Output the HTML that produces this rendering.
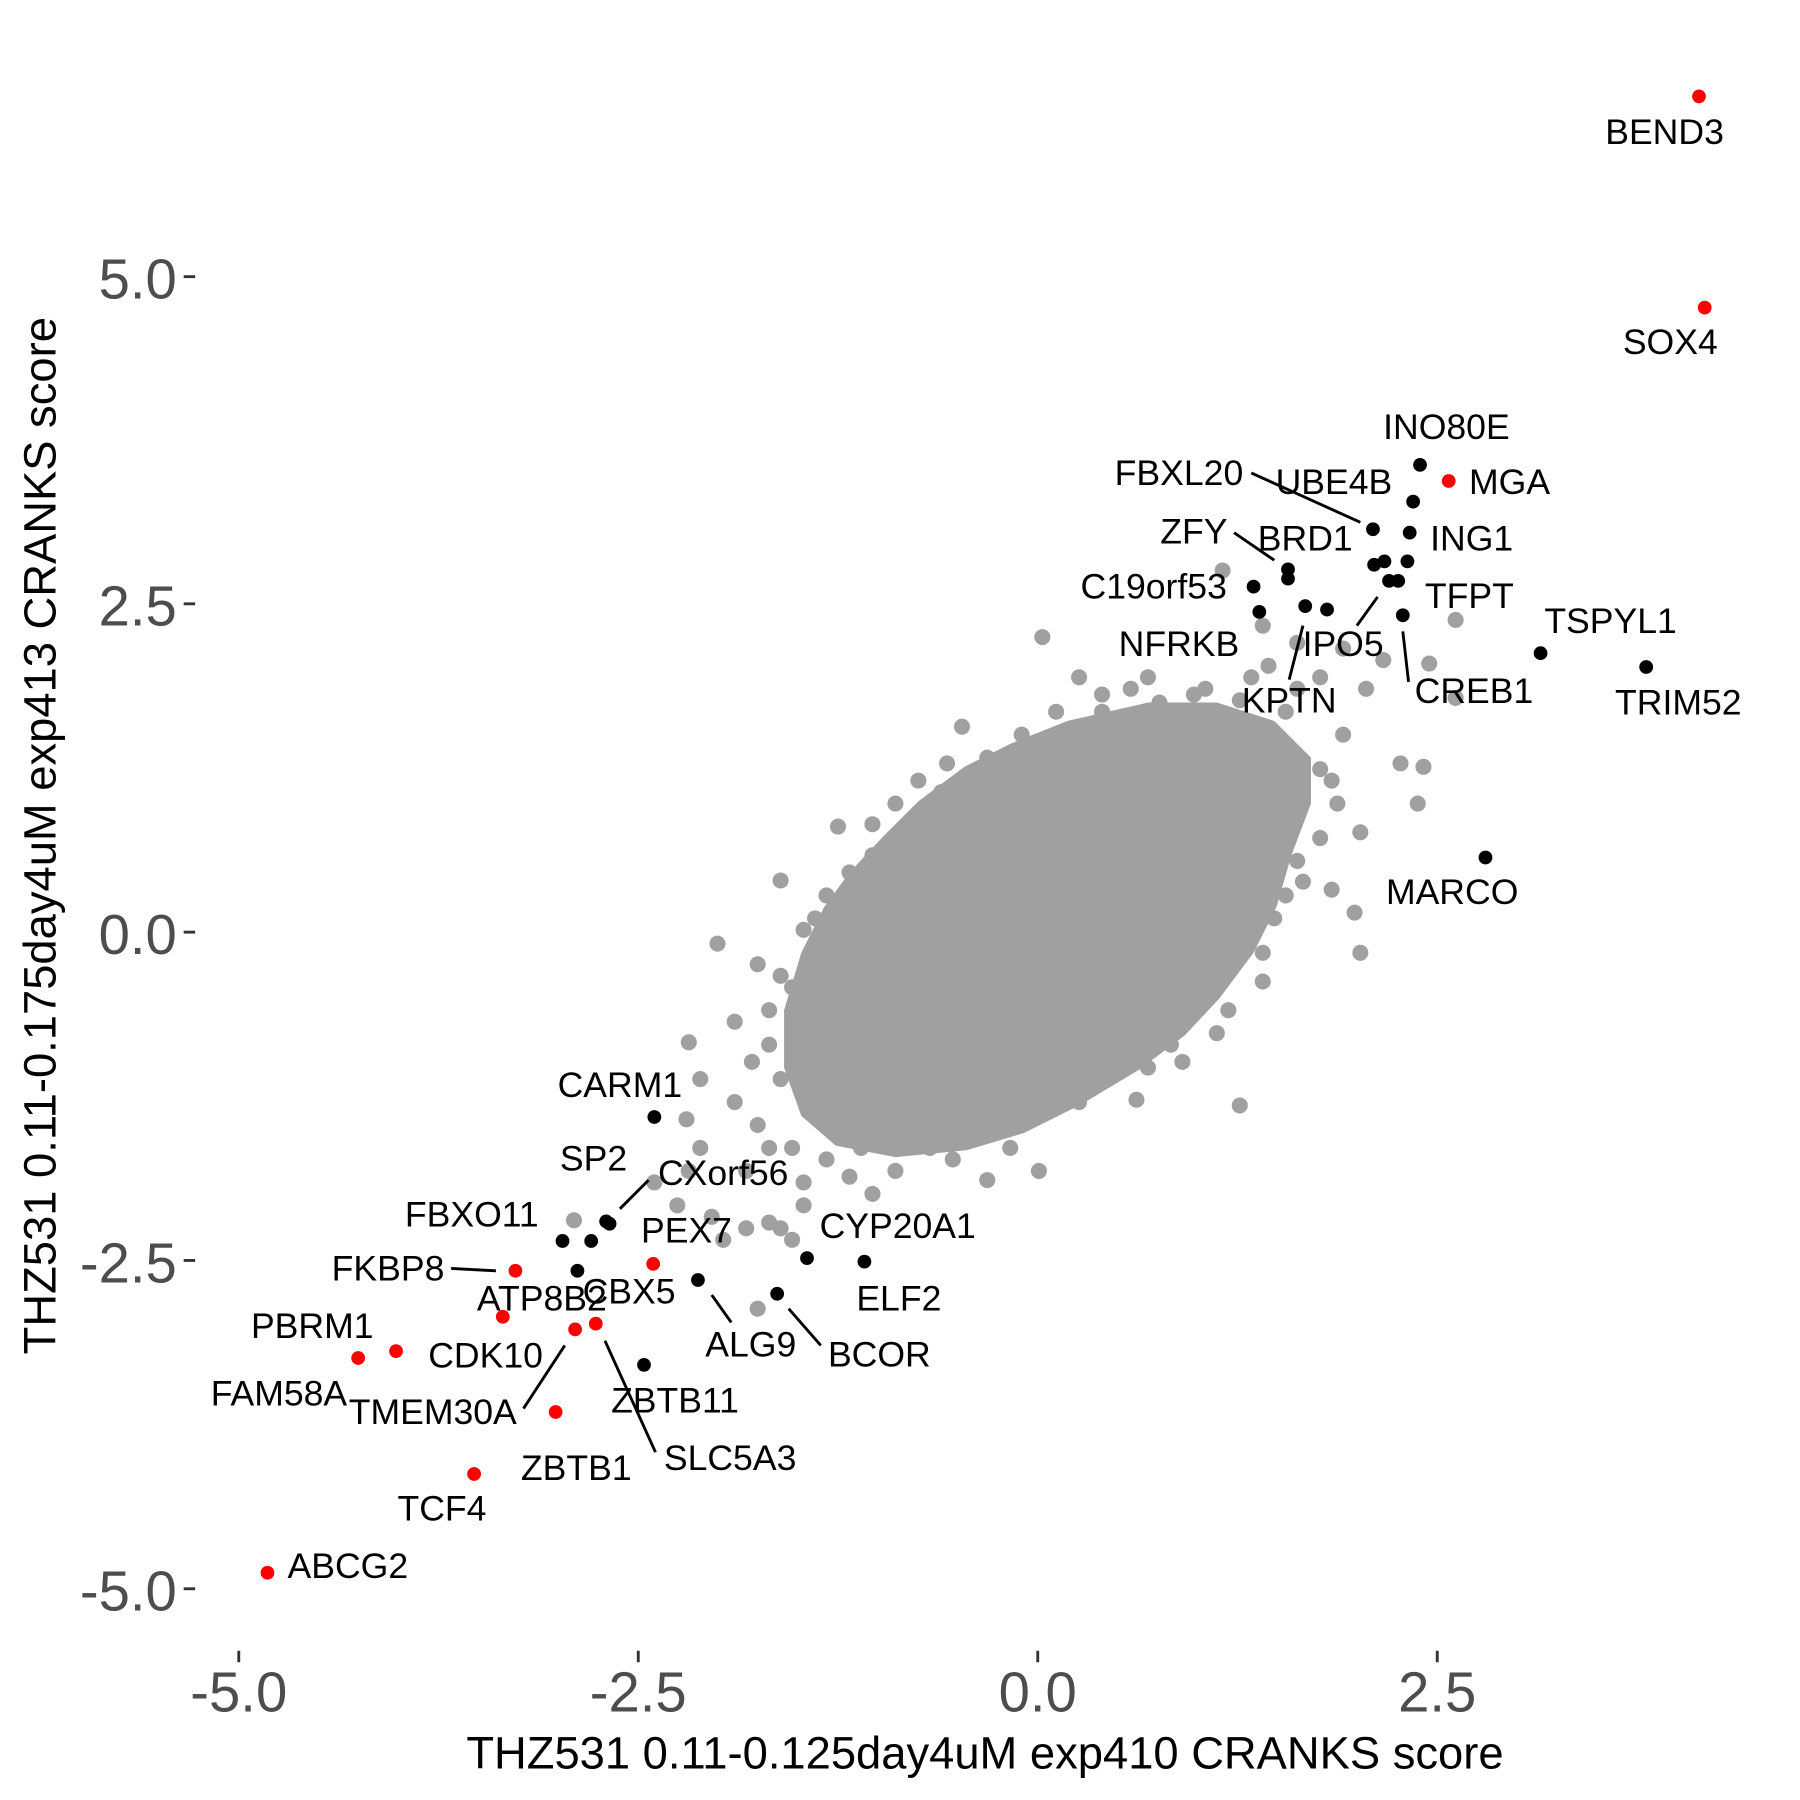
<!DOCTYPE html>
<html><head><meta charset="utf-8"><style>
html,body{margin:0;padding:0;background:#fff;}
svg{display:block;}
text{font-family:"Liberation Sans",Arial,sans-serif;}
.l{font-size:31px;fill:#000;text-anchor:middle;dominant-baseline:central;}
.t{font-size:49px;fill:#4d4d4d;dominant-baseline:central;}
</style></head><body>
<svg width="1800" height="1800" viewBox="0 0 1568 1568" xmlns="http://www.w3.org/2000/svg">
<rect width="1568" height="1568" fill="#fff"/>
<g fill="#a0a0a0">
<path d="M1000,612 L1060,612 L1110,628 L1142,660 L1142,700 L1125,745 L1112,790 L1092,830 L1062,870 L1032,902 L992,932 L942,962 L892,987 L842,1002 L780,1008 L728,998 L698,972 L683,930 L683,880 L698,830 L718,790 L740,760 L770,728 L800,698 L840,668 L880,648 L930,628 Z"/>
<g>
<circle cx="908" cy="555" r="7"/><circle cx="940" cy="590" r="7"/><circle cx="985" cy="600" r="7"/><circle cx="1010" cy="612" r="7"/><circle cx="1040" cy="605" r="7"/><circle cx="1065" cy="497" r="7"/><circle cx="1100" cy="545" r="7"/><circle cx="1105" cy="580" r="7"/><circle cx="1130" cy="560" r="7"/><circle cx="1150" cy="590" r="7"/><circle cx="1170" cy="565" r="7"/><circle cx="1190" cy="600" r="7"/><circle cx="1205" cy="575" r="7"/><circle cx="1245" cy="578" r="7"/><circle cx="1268" cy="540" r="7"/><circle cx="1268" cy="608" r="7"/><circle cx="1220" cy="665" r="7"/><circle cx="1240" cy="668" r="7"/><circle cx="1235" cy="700" r="7"/><circle cx="1185" cy="725" r="7"/><circle cx="1165" cy="700" r="7"/><circle cx="1160" cy="775" r="7"/><circle cx="1135" cy="768" r="7"/><circle cx="1180" cy="795" r="7"/><circle cx="1185" cy="830" r="7"/><circle cx="1110" cy="800" r="7"/><circle cx="1100" cy="855" r="7"/><circle cx="1080" cy="963" r="7"/><circle cx="1060" cy="900" r="7"/><circle cx="1030" cy="925" r="7"/><circle cx="990" cy="958" r="7"/><circle cx="905" cy="1020" r="7"/><circle cx="860" cy="1028" r="7"/><circle cx="780" cy="1020" r="7"/><circle cx="750" cy="1000" r="7"/><circle cx="740" cy="1025" r="7"/><circle cx="700" cy="1030" r="7"/><circle cx="680" cy="1070" r="7"/><circle cx="670" cy="1065" r="7"/><circle cx="650" cy="1070" r="7"/><circle cx="630" cy="1080" r="7"/><circle cx="660" cy="1140" r="7"/><circle cx="620" cy="1060" r="7"/><circle cx="600" cy="908" r="7"/><circle cx="625" cy="822" r="7"/><circle cx="660" cy="840" r="7"/><circle cx="680" cy="767" r="7"/><circle cx="730" cy="720" r="7"/><circle cx="760" cy="718" r="7"/><circle cx="800" cy="680" r="7"/><circle cx="825" cy="665" r="7"/><circle cx="838" cy="633" r="7"/><circle cx="860" cy="660" r="7"/><circle cx="610" cy="1000" r="7"/><circle cx="590" cy="1050" r="7"/><circle cx="500" cy="1063" r="7"/><circle cx="598" cy="975" r="7"/><circle cx="640" cy="890" r="7"/><circle cx="640" cy="960" r="7"/><circle cx="570" cy="1030" r="7"/><circle cx="600" cy="1020" r="7"/><circle cx="690" cy="1080" r="7"/><circle cx="610" cy="940" r="7"/>
<circle cx="670" cy="910" r="7"/><circle cx="680" cy="940" r="7"/><circle cx="660" cy="980" r="7"/><circle cx="690" cy="1000" r="7"/><circle cx="720" cy="1010" r="7"/><circle cx="810" cy="1000" r="7"/><circle cx="850" cy="990" r="7"/><circle cx="940" cy="960" r="7"/><circle cx="1000" cy="930" r="7"/><circle cx="1050" cy="870" r="7"/><circle cx="1080" cy="830" r="7"/><circle cx="1120" cy="780" r="7"/><circle cx="1150" cy="730" r="7"/><circle cx="1150" cy="670" r="7"/><circle cx="1120" cy="620" r="7"/><circle cx="1080" cy="610" r="7"/><circle cx="960" cy="620" r="7"/><circle cx="890" cy="640" r="7"/><circle cx="780" cy="700" r="7"/><circle cx="740" cy="760" r="7"/><circle cx="710" cy="800" r="7"/><circle cx="690" cy="860" r="7"/>
<circle cx="670" cy="1000" r="7"/><circle cx="650" cy="1020" r="7"/><circle cx="700" cy="1050" r="7"/><circle cx="760" cy="1040" r="7"/><circle cx="830" cy="1010" r="7"/><circle cx="880" cy="1000" r="7"/><circle cx="960" cy="940" r="7"/><circle cx="1020" cy="910" r="7"/><circle cx="1070" cy="880" r="7"/><circle cx="1100" cy="830" r="7"/><circle cx="1130" cy="750" r="7"/><circle cx="1160" cy="680" r="7"/><circle cx="1170" cy="640" r="7"/><circle cx="1130" cy="600" r="7"/><circle cx="1090" cy="590" r="7"/><circle cx="1050" cy="600" r="7"/><circle cx="1000" cy="590" r="7"/><circle cx="960" cy="605" r="7"/><circle cx="920" cy="620" r="7"/><circle cx="870" cy="670" r="7"/><circle cx="820" cy="690" r="7"/><circle cx="790" cy="720" r="7"/><circle cx="760" cy="745" r="7"/><circle cx="720" cy="780" r="7"/><circle cx="700" cy="810" r="7"/><circle cx="680" cy="850" r="7"/><circle cx="670" cy="880" r="7"/><circle cx="655" cy="925" r="7"/>
</g></g>
<g stroke="#000" stroke-width="2.5">
<line x1="1090" y1="412" x2="1185" y2="455"/><line x1="1075" y1="464" x2="1110" y2="488"/><line x1="1123" y1="592" x2="1135" y2="545"/><line x1="1182" y1="545" x2="1200" y2="520"/><line x1="1227" y1="594" x2="1222" y2="550"/><line x1="540" y1="1053" x2="565" y2="1028"/><line x1="393" y1="1105" x2="432" y2="1107"/><line x1="620" y1="1128" x2="637" y2="1152"/><line x1="687" y1="1140" x2="715" y2="1172"/><line x1="456" y1="1227" x2="492" y2="1172"/><line x1="527" y1="1168" x2="571" y2="1265"/>
</g>
<g fill="#000">
<circle cx="1237" cy="405" r="6"/><circle cx="1231" cy="437" r="6"/><circle cx="1196" cy="461" r="6"/><circle cx="1228" cy="464" r="6"/><circle cx="1197" cy="492" r="6"/><circle cx="1206" cy="489" r="6"/><circle cx="1226" cy="489" r="6"/><circle cx="1210" cy="506" r="6"/><circle cx="1218" cy="506" r="6"/><circle cx="1122" cy="496" r="6"/><circle cx="1122" cy="504" r="6"/><circle cx="1092" cy="511" r="6"/><circle cx="1097" cy="533" r="6"/><circle cx="1137" cy="528" r="6"/><circle cx="1156" cy="531" r="6"/><circle cx="1222" cy="536" r="6"/><circle cx="1342" cy="569" r="6"/><circle cx="1434" cy="581" r="6"/><circle cx="1294" cy="747" r="6"/><circle cx="570" cy="973" r="6"/><circle cx="528" cy="1064" r="6"/><circle cx="531" cy="1066" r="6"/><circle cx="490" cy="1081" r="6"/><circle cx="515" cy="1081" r="6"/><circle cx="503" cy="1107" r="6"/><circle cx="608" cy="1115" r="6"/><circle cx="677" cy="1127" r="6"/><circle cx="703" cy="1096" r="6"/><circle cx="753" cy="1099" r="6"/><circle cx="561" cy="1189" r="6"/>
</g>
<g fill="#ff0000">
<circle cx="1480" cy="84" r="6"/><circle cx="1485" cy="268" r="6"/><circle cx="1262" cy="419" r="6"/><circle cx="449" cy="1107" r="6"/><circle cx="569" cy="1101" r="6"/><circle cx="438" cy="1147" r="6"/><circle cx="501" cy="1158" r="6"/><circle cx="519" cy="1153" r="6"/><circle cx="345" cy="1177" r="6"/><circle cx="312" cy="1183" r="6"/><circle cx="484" cy="1230" r="6"/><circle cx="413" cy="1284" r="6"/><circle cx="233" cy="1370" r="6"/>
</g>
<g>
<text class="l" x="1450" y="115">BEND3</text><text class="l" x="1455" y="298">SOX4</text><text class="l" x="1260" y="372">INO80E</text><text class="l" x="1315" y="420">MGA</text><text class="l" x="1027" y="412">FBXL20</text><text class="l" x="1162" y="420">UBE4B</text><text class="l" x="1040" y="463">ZFY</text><text class="l" x="1137" y="469">BRD1</text><text class="l" x="1282" y="469">ING1</text><text class="l" x="1005" y="511">C19orf53</text><text class="l" x="1280" y="519">TFPT</text><text class="l" x="1403" y="541">TSPYL1</text><text class="l" x="1027" y="561">NFRKB</text><text class="l" x="1170" y="561">IPO5</text><text class="l" x="1284" y="602">CREB1</text><text class="l" x="1123" y="610">KPTN</text><text class="l" x="1462" y="612">TRIM52</text><text class="l" x="1265" y="777">MARCO</text><text class="l" x="540" y="945">CARM1</text><text class="l" x="517" y="1009">SP2</text><text class="l" x="630" y="1022">CXorf56</text><text class="l" x="411" y="1058">FBXO11</text><text class="l" x="598" y="1072">PEX7</text><text class="l" x="782" y="1068">CYP20A1</text><text class="l" x="338" y="1105">FKBP8</text><text class="l" x="472" y="1131">ATP8B2</text><text class="l" x="548" y="1125">CBX5</text><text class="l" x="783" y="1131">ELF2</text><text class="l" x="272" y="1155">PBRM1</text><text class="l" x="423" y="1181">CDK10</text><text class="l" x="654" y="1171">ALG9</text><text class="l" x="766" y="1180">BCOR</text><text class="l" x="243" y="1214">FAM58A</text><text class="l" x="377" y="1230">TMEM30A</text><text class="l" x="588" y="1220">ZBTB11</text><text class="l" x="636" y="1270">SLC5A3</text><text class="l" x="502" y="1279">ZBTB1</text><text class="l" x="385" y="1314">TCF4</text><text class="l" x="303" y="1364">ABCG2</text>
</g>
<g stroke="#333" stroke-width="2.5">
<line x1="160" y1="241" x2="170" y2="241"/><line x1="160" y1="526" x2="170" y2="526"/><line x1="160" y1="812" x2="170" y2="812"/><line x1="160" y1="1098" x2="170" y2="1098"/><line x1="160" y1="1384" x2="170" y2="1384"/>
<line x1="208" y1="1438" x2="208" y2="1448"/><line x1="556" y1="1438" x2="556" y2="1448"/><line x1="904" y1="1438" x2="904" y2="1448"/><line x1="1252" y1="1438" x2="1252" y2="1448"/>
</g>
<g>
<text class="t" x="154" y="243" text-anchor="end">5.0</text><text class="t" x="154" y="528" text-anchor="end">2.5</text><text class="t" x="154" y="814" text-anchor="end">0.0</text><text class="t" x="154" y="1100" text-anchor="end">-2.5</text><text class="t" x="154" y="1386" text-anchor="end">-5.0</text>
<text class="t" x="208" y="1474" text-anchor="middle">-5.0</text><text class="t" x="556" y="1474" text-anchor="middle">-2.5</text><text class="t" x="904" y="1474" text-anchor="middle">0.0</text><text class="t" x="1252" y="1474" text-anchor="middle">2.5</text>
</g>
<text x="858" y="1527" font-size="39.5" text-anchor="middle" dominant-baseline="central" fill="#000">THZ531 0.11-0.125day4uM exp410 CRANKS score</text>
<text x="35" y="728" font-size="39.5" text-anchor="middle" dominant-baseline="central" fill="#000" transform="rotate(-90 35 728)">THZ531 0.11-0.175day4uM exp413 CRANKS score</text>
</svg>
</body></html>
